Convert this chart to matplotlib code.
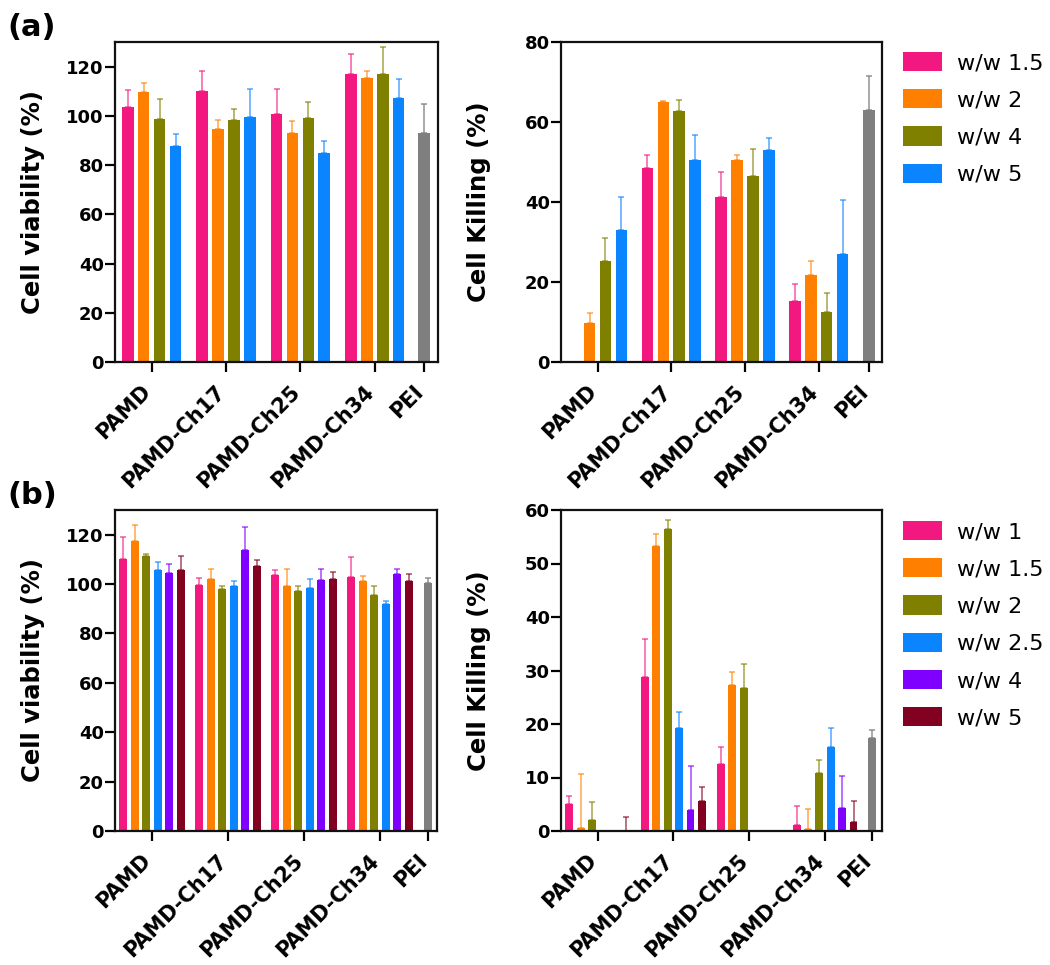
import matplotlib
matplotlib.use("Agg")
import matplotlib.pyplot as plt
import matplotlib.transforms as mtransforms
import numpy as np
from matplotlib.patches import Patch

plt.rcParams['font.family'] = ['DejaVu Sans']

# ---------------- data ----------------
groups = ['PAMD', 'PAMD-Ch17', 'PAMD-Ch25', 'PAMD-Ch34']
ref_label = 'PEI'

# panel (a)
a_series = ['w/w 1.5', 'w/w 2', 'w/w 4', 'w/w 5']
a_via_w15 = [103.4, 110.1, 100.8, 117.0]
a_via_w15_err = [7.0, 8.0, 10.2, 8.0]
a_via_w2 = [109.5, 94.6, 93.2, 115.5]
a_via_w2_err = [3.9, 3.9, 4.9, 2.6]
a_via_w4 = [98.6, 98.4, 99.2, 116.8]
a_via_w4_err = [8.2, 4.2, 6.3, 11.2]
a_via_w5 = [87.7, 99.5, 84.9, 107.3]
a_via_w5_err = [4.9, 11.6, 4.8, 7.8]
a_via_pei = 93.1
a_via_pei_err = 11.6

a_kill_w15 = [0.0, 48.5, 41.2, 15.2]
a_kill_w15_err = [0.0, 3.3, 6.4, 4.4]
a_kill_w2 = [9.75, 64.9, 50.6, 21.8]
a_kill_w2_err = [2.5, 0.4, 1.2, 3.4]
a_kill_w4 = [25.25, 62.7, 46.6, 12.4]
a_kill_w4_err = [5.65, 2.9, 6.65, 4.9]
a_kill_w5 = [33.1, 50.6, 53.1, 27.1]
a_kill_w5_err = [8.1, 6.15, 2.9, 13.3]
a_kill_pei = 63.1
a_kill_pei_err = 8.3

# panel (b)
b_series = ['w/w 1', 'w/w 1.5', 'w/w 2', 'w/w 2.5', 'w/w 4', 'w/w 5']
b_via_w1 = [110.1, 99.7, 103.7, 103.0]
b_via_w1_err = [8.8, 2.6, 2.2, 7.9]
b_via_w15 = [117.3, 102.0, 99.3, 101.2]
b_via_w15_err = [6.8, 4.1, 6.7, 2.1]
b_via_w2 = [111.4, 98.2, 97.3, 95.5]
b_via_w2_err = [0.6, 1.1, 1.9, 3.7]
b_via_w25 = [105.7, 99.3, 98.6, 92.1]
b_via_w25_err = [3.4, 2.1, 3.3, 1.2]
b_via_w4 = [104.4, 113.9, 101.5, 104.0]
b_via_w4_err = [3.6, 9.1, 4.6, 2.1]
b_via_w5 = [105.7, 107.5, 102.0, 101.4]
b_via_w5_err = [5.7, 2.3, 3.0, 2.6]
b_via_pei = 100.5
b_via_pei_err = 2.1

b_kill_w1 = [5.1, 28.7, 12.6, 1.1]
b_kill_w1_err = [1.4, 7.2, 3.1, 3.5]
b_kill_w15 = [0.6, 53.3, 27.2, 0.4]
b_kill_w15_err = [10.0, 2.3, 2.5, 3.8]
b_kill_w2 = [2.0, 56.5, 26.7, 10.8]
b_kill_w2_err = [3.5, 1.7, 4.6, 2.5]
b_kill_w25 = [0.0, 19.25, 0.0, 15.7]
b_kill_w25_err = [0.0, 2.95, 0.0, 3.55]
b_kill_w4 = [0.0, 4.0, 0.0, 4.3]
b_kill_w4_err = [0.0, 8.1, 0.0, 5.9]
b_kill_w5 = [0.0, 5.7, 0.0, 1.7]
b_kill_w5_err = [2.7, 2.6, 0.0, 3.9]
b_kill_pei = 17.4
b_kill_pei_err = 1.5

# ---------------- style ----------------
PINK, ORANGE, OLIVE, BLUE, PURPLE, DRED, GRAY = (
    '#F2187F', '#FF8000', '#808000', '#0A84FF', '#8000FF', '#820020', '#7F7F7F')
a_colors = [PINK, ORANGE, OLIVE, BLUE]
b_colors = [PINK, ORANGE, OLIVE, BLUE, PURPLE, DRED]

W, H = 1050, 965
fig = plt.figure(figsize=(W / 100, H / 100), dpi=100)
shift_left = mtransforms.ScaledTranslation(-4 / 100, 0, fig.dpi_scale_trans)


def ax_rect(x0, x1, ytop, ybot):
    return [x0 / W, 1 - ybot / H, (x1 - x0) / W, (ybot - ytop) / H]


def draw(ax, width_px, means, errs, pei, pei_err, colors, gsp, pei_pos, bw, xlim, ylim, yticks, ylabel):
    n = len(means)
    centers = np.arange(len(groups)) * gsp
    for i, (m, e, c) in enumerate(zip(means, errs, colors)):
        x = centers + (i - (n - 1) / 2)
        ax.bar(x, m, width=bw, color=c, zorder=2)
        m = np.asarray(m); e = np.asarray(e)
        mask = e > 0
        ax.errorbar(x[mask], m[mask], yerr=[np.zeros(mask.sum()), e[mask]], fmt='none',
                    ecolor=c, elinewidth=1.1, capsize=2.5, capthick=1.1, alpha=0.7, zorder=1)
    ax.bar([pei_pos], [pei], width=bw, color=GRAY, zorder=2)
    ax.errorbar([pei_pos], [pei], yerr=[[0], [pei_err]], fmt='none', ecolor=GRAY,
                elinewidth=1.1, capsize=2.5, capthick=1.1, alpha=0.85, zorder=1)
    ax.set_xlim(*xlim)
    ax.set_ylim(*ylim)
    ax.set_yticks(yticks)
    ax.set_xticks(list(centers) + [pei_pos])
    ax.set_xticklabels(groups + [ref_label], rotation=45, ha='right', va='center',
                       rotation_mode='anchor', fontsize=15, fontweight='bold')
    ax.tick_params(axis='y', labelsize=13, width=1.6, length=7, pad=1, direction='out')
    ax.tick_params(axis='x', width=1.6, length=7, pad=12, direction='out')
    for lab in ax.get_xticklabels():
        lab.set_transform(lab.get_transform() + shift_left)
    for lab in ax.get_yticklabels():
        lab.set_fontweight('bold')
    for s in ax.spines.values():
        s.set_linewidth(1.6)
        s.set_color('#111111')
    ax.set_ylabel(ylabel, fontsize=17.5, fontweight='bold')
    ax.yaxis.set_label_coords(-70 / width_px, 0.5)


# panel (a)
ax1 = fig.add_axes(ax_rect(115, 438, 42, 362))
draw(ax1, 323, [a_via_w15, a_via_w2, a_via_w4, a_via_w5],
     [a_via_w15_err, a_via_w2_err, a_via_w4_err, a_via_w5_err],
     a_via_pei, a_via_pei_err, a_colors, 4.67, 17.1, 0.73, (-2.3, 17.98), (0, 130),
     np.arange(0, 121, 20), 'Cell viability (%)')

ax2 = fig.add_axes(ax_rect(561, 882, 42, 362))
draw(ax2, 321, [a_kill_w15, a_kill_w2, a_kill_w4, a_kill_w5],
     [a_kill_w15_err, a_kill_w2_err, a_kill_w4_err, a_kill_w5_err],
     a_kill_pei, a_kill_pei_err, a_colors, 4.64, 17.1, 0.73, (-2.3, 17.9), (0, 80),
     np.arange(0, 81, 20), 'Cell Killing (%)')

# panel (b)
ax3 = fig.add_axes(ax_rect(115, 437, 510, 831))
draw(ax3, 322, [b_via_w1, b_via_w15, b_via_w2, b_via_w25, b_via_w4, b_via_w5],
     [b_via_w1_err, b_via_w15_err, b_via_w2_err, b_via_w25_err, b_via_w4_err, b_via_w5_err],
     b_via_pei, b_via_pei_err, b_colors, 6.64, 24.1, 0.7, (-3.23, 24.9), (0, 130),
     np.arange(0, 121, 20), 'Cell viability (%)')

ax4 = fig.add_axes(ax_rect(561, 882, 510, 831))
draw(ax4, 321, [b_kill_w1, b_kill_w15, b_kill_w2, b_kill_w25, b_kill_w4, b_kill_w5],
     [b_kill_w1_err, b_kill_w15_err, b_kill_w2_err, b_kill_w25_err, b_kill_w4_err, b_kill_w5_err],
     b_kill_pei, b_kill_pei_err, b_colors, 6.68, 24.2, 0.7, (-3.23, 25.05), (0, 60),
     np.arange(0, 61, 10), 'Cell Killing (%)')

# legends
for labels, cols, ytop in [(a_series, a_colors, 52), (b_series, b_colors, 521)]:
    handles = [Patch(facecolor=c, edgecolor='none') for c in cols]
    fig.legend(handles, labels, loc='upper left', bbox_to_anchor=(903 / W, 1 - ytop / H),
               frameon=False, fontsize=16, handlelength=1.75, handleheight=0.95,
               handletextpad=0.7, labelspacing=0.72, borderpad=0, borderaxespad=0)

fig.text(7 / W, 1 - 28 / H, '(a)', fontsize=22, fontweight='bold', va='center', ha='left')
fig.text(7 / W, 1 - 496 / H, '(b)', fontsize=22, fontweight='bold', va='center', ha='left')

fig.savefig('out.png', dpi=100)
